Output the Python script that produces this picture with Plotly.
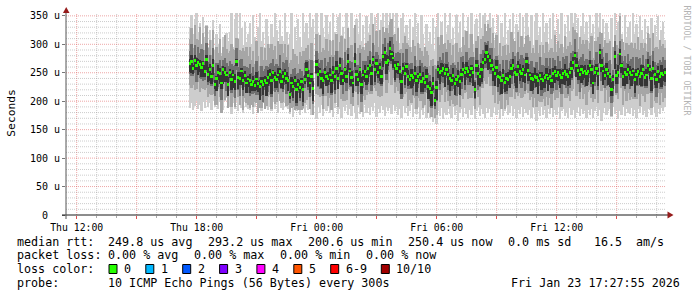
import numpy as np
import pandas as pd
import plotly.graph_objects as go

# ---------------- data (microseconds) ----------------
start_time = "2026-01-22 17:40:00"   # first 5-minute bin
bin_minutes = 5

median_us = [
    266, 270, 258, 272, 262, 268, 264, 259, 266, 252, 273, 247,
    256, 243, 262, 229, 240, 251, 249, 232, 255, 250, 246, 230,
    250, 238, 246, 234, 269, 242, 240, 253, 236, 245, 232, 239,
    236, 230, 234, 228, 239, 231, 226, 234, 229, 237, 232, 242,
    247, 236, 250, 241, 238, 246, 252, 235, 243, 249, 240, 236,
    211, 232, 226, 237, 221, 230, 224, 235, 220, 238, 256, 245,
    232, 243, 223, None, 264, 247, 252, 240, 236, 250, 244, 239,
    246, 237, 251, 243, 258, 240, 262, 248, 236, 255, 244, 270,
    253, 241, 232, 270, 247, 238, 255, 229, 246, 252, 243, 258,
    262, 248, 273, 255, 266, 250, 259, 243, 278, 285, 268, 272,
    293, 283, 276, 262, 257, 264, 252, 234, 258, 249, 261, 244,
    238, 245, 241, 249, 236, 243, 247, 235, 240, 233, 244, 226,
    222, 216, 231, 201, 224, 255, 250, 253, 258, 249, 256, 247,
    240, 236, 245, 231, 238, 243, 235, 247, 256, 250, 258, 252,
    246, 258, 251, 220, 262, 249, 243, 255, 268, 274, 285, 279,
    272, 262, 255, 248, 259, 243, 241, 236, 245, 233, 240, 238,
    243, 258, 262, 250, 247, 261, 252, 249, 256, 246, 269, 254,
    246, 240, 238, 244, 241, 236, 245, 239, 237, 242, 246, 240,
    244, 236, 248, 252, 245, 250, 246, 241, 249, 252, 247, 243,
    250, 258, 268, 280, 262, 254, 247, 256, 251, 253, 248, 252,
    262, 255, 232, 250, 258, 248, 285, 262, 253, 245, 256, 249,
    243, 220, 238, 278, 245, 251, 283, 262, 244, 250, 247, 255,
    250, 246, 253, 238, 247, 252, 244, 249, 255, 241, 246, 262,
    255, 240, 258, 247, 238, 252, 244, 249, 246, 250,
]

max_us = [
    330, 352, 318, 345, 360, 322, 338, 300, 348, 312, 334, 296,
    326, 308, 342, 290, 318, 300, 336, 284, 312, 296, 320, 306,
    322, 360, 296, 344, 360, 310, 355, 328, 298, 340, 304, 318,
    338, 300, 352, 312, 290, 330, 360, 306, 322, 296, 344, 314,
    300, 335, 312, 360, 325, 296, 342, 315, 306, 356, 322, 300,
    318, 360, 292, 330, 306, 345, 312, 296, 360, 322, 338, 310,
    356, 330, 344, None, 360, 320, 300, 360, 328, 312, 352, 318,
    340, 306, 360, 322, 296, 348, 360, 316, 330, 302, 358, 326,
    312, 360, 328, 300, 344, 318, 360, 306, 334, 296, 350, 320,
    336, 360, 314, 348, 300, 360, 326, 342, 360, 318, 356, 334,
    360, 340, 358, 316, 360, 328, 302, 346, 360, 320, 334, 308,
    344, 296, 330, 360, 312, 338, 300, 352, 318, 290, 336, 306,
    322, 300, 346, 288, 330, 360, 312, 340, 298, 356, 318, 334,
    360, 310, 328, 300, 352, 320, 340, 296, 360, 326, 312, 348,
    318, 360, 300, 336, 344, 312, 360, 328, 352, 360, 320, 342,
    360, 330, 346, 308, 320, 352, 296, 338, 312, 360, 300, 326,
    344, 318, 360, 300, 336, 326, 360, 310, 348, 296, 360, 330,
    312, 352, 298, 340, 360, 316, 330, 304, 356, 322, 338, 300,
    346, 310, 360, 326, 300, 344, 318, 360, 296, 336, 312, 352,
    324, 360, 338, 360, 310, 346, 300, 332, 360, 318, 340, 306,
    352, 320, 336, 304, 360, 328, 360, 312, 344, 300, 338, 322,
    310, 346, 296, 360, 326, 340, 360, 318, 300, 352, 312, 330,
    340, 304, 360, 318, 336, 296, 350, 326, 310, 344, 300, 332,
    318, 346, 300, 334, 312, 350, 298, 326, 340, 308,
]

min_us = [
    188, 196, 184, 192, 200, 186, 194, 182, 198, 188, 202, 190,
    196, 184, 200, 190, 205, 186, 198, 192, 184, 200, 206, 194,
    190, 178, 196, 186, 200, 182, 194, 188, 180, 198, 190, 186,
    184, 196, 178, 190, 200, 186, 192, 182, 198, 188, 194, 184,
    190, 182, 198, 186, 194, 180, 200, 188, 184, 196, 190, 186,
    178, 188, 172, 192, 182, 196, 176, 190, 186, 180, 194, 184,
    188, 176, 186, None, 168, 190, 180, 194, 174, 186, 182, 192,
    180, 192, 172, 188, 196, 178, 186, 170, 190, 182, 194, 176,
    186, 174, 192, 180, 168, 190, 178, 186, 172, 194, 180, 188,
    176, 190, 182, 196, 172, 186, 180, 192, 184, 174, 190, 182,
    188, 178, 194, 182, 190, 176, 186, 170, 192, 180, 188, 174,
    182, 194, 172, 186, 178, 190, 168, 184, 176, 192, 170, 180,
    170, 186, 164, 176, 160, 182, 174, 188, 168, 180, 176, 186,
    178, 170, 190, 176, 184, 166, 180, 186, 172, 188, 178, 170,
    184, 176, 192, 168, 182, 190, 174, 186, 178, 170, 188, 180,
    186, 172, 180, 190, 176, 184, 168, 188, 174, 182, 192, 176,
    180, 192, 174, 186, 170, 184, 178, 190, 172, 186, 180, 176,
    184, 170, 188, 178, 166, 182, 174, 190, 176, 184, 170, 186,
    178, 188, 172, 184, 176, 190, 168, 182, 186, 174, 180, 170,
    188, 176, 184, 170, 180, 190, 174, 186, 178, 182, 170, 184,
    176, 186, 170, 182, 190, 174, 184, 166, 180, 188, 176, 182,
    186, 172, 190, 178, 184, 168, 182, 176, 190, 174, 186, 180,
    178, 188, 174, 184, 170, 186, 180, 190, 176, 182, 172, 186,
    184, 176, 190, 180, 172, 186, 178, 188, 182, 190,
]

# smoke spread around the median (us): outer, middle and core bands
outer_up = [
    44, 58, 36, 62, 48, 40, 66, 42, 54, 38, 60, 46,
    52, 38, 64, 44, 56, 34, 60, 48, 40, 66, 46, 54,
    38, 62, 46, 56, 42, 68, 50, 36, 58, 44, 64, 40,
    60, 42, 54, 38, 66, 48, 36, 62, 44, 56, 40, 58,
    46, 64, 40, 56, 36, 60, 48, 66, 42, 52, 38, 62,
    56, 40, 66, 46, 58, 36, 62, 44, 68, 50, 38, 54,
    42, 60, 48, 0, 54, 38, 64, 46, 58, 40, 66, 50,
    62, 44, 56, 38, 60, 48, 42, 66, 36, 54, 46, 58,
    40, 58, 46, 64, 36, 56, 44, 62, 50, 38, 60, 48,
    54, 38, 62, 44, 58, 46, 66, 40, 52, 36, 60, 48,
    46, 62, 40, 56, 48, 64, 38, 58, 44, 66, 42, 54,
    58, 42, 66, 48, 36, 60, 46, 54, 40, 62, 44, 56,
    40, 56, 44, 62, 38, 58, 48, 64, 42, 54, 36, 60,
    62, 46, 54, 38, 64, 44, 58, 40, 56, 48, 66, 42,
    48, 60, 36, 58, 44, 66, 40, 54, 46, 62, 38, 56,
    56, 40, 64, 46, 58, 38, 62, 44, 52, 66, 42, 60,
    42, 64, 48, 56, 38, 60, 44, 66, 40, 54, 46, 62,
    60, 44, 56, 40, 66, 48, 54, 38, 62, 42, 58, 46,
    46, 58, 38, 64, 42, 56, 48, 60, 36, 62, 44, 54,
    54, 40, 62, 46, 58, 38, 66, 44, 56, 48, 60, 40,
    40, 60, 44, 56, 48, 64, 36, 58, 42, 62, 46, 54,
    62, 46, 58, 38, 54, 42, 66, 48, 60, 40, 56, 44,
    48, 56, 40, 64, 44, 60, 46, 54, 38, 62, 42, 58,
    56, 42, 62, 46, 58, 40, 64, 48, 54, 44,
]
outer_dn = [
    38, 46, 30, 52, 40, 34, 48, 36, 44, 32, 50, 40,
    44, 32, 50, 36, 46, 30, 42, 52, 34, 48, 38, 42,
    32, 48, 38, 44, 50, 34, 46, 30, 52, 40, 36, 46,
    48, 36, 44, 30, 42, 52, 38, 46, 32, 50, 40, 34,
    36, 50, 32, 46, 40, 34, 52, 38, 44, 30, 48, 42,
    30, 44, 36, 52, 34, 46, 40, 50, 32, 42, 54, 38,
    46, 34, 48, 0, 52, 36, 44, 30, 50, 40, 34, 48,
    40, 52, 34, 46, 38, 50, 32, 44, 36, 54, 42, 48,
    34, 46, 40, 52, 30, 44, 38, 48, 36, 50, 32, 42,
    50, 36, 46, 32, 48, 40, 52, 34, 44, 38, 54, 40,
    42, 54, 36, 48, 32, 46, 40, 30, 50, 36, 44, 52,
    36, 48, 32, 44, 50, 38, 46, 34, 52, 40, 30, 46,
    32, 44, 38, 30, 48, 36, 52, 42, 34, 50, 40, 46,
    48, 34, 50, 40, 44, 30, 46, 38, 52, 36, 42, 48,
    40, 52, 36, 34, 46, 42, 50, 32, 44, 38, 54, 36,
    46, 36, 44, 52, 34, 48, 40, 50, 30, 46, 38, 44,
    36, 50, 40, 46, 32, 52, 38, 44, 48, 34, 50, 40,
    44, 32, 48, 38, 52, 36, 46, 40, 34, 50, 38, 46,
    38, 48, 34, 50, 40, 44, 30, 52, 36, 46, 42, 34,
    50, 40, 46, 36, 52, 38, 44, 32, 48, 40, 54, 36,
    42, 50, 34, 46, 38, 52, 40, 44, 30, 48, 36, 50,
    36, 46, 40, 52, 34, 48, 42, 38, 50, 32, 46, 40,
    48, 38, 50, 34, 44, 40, 52, 36, 46, 42, 34, 50,
    40, 52, 36, 46, 42, 38, 50, 34, 48, 44,
]
mid_up = [
    22, 30, 18, 26, 16, 28, 20, 32, 24, 18, 30, 22,
    26, 18, 32, 20, 28, 16, 24, 30, 18, 26, 22, 32,
    20, 28, 16, 30, 24, 18, 32, 22, 26, 16, 28, 20,
    30, 20, 26, 18, 32, 22, 16, 28, 24, 20, 30, 18,
    18, 32, 24, 20, 28, 16, 30, 22, 26, 18, 32, 24,
    28, 16, 30, 22, 26, 20, 32, 18, 24, 30, 16, 26,
    22, 30, 18, 0, 24, 28, 16, 32, 20, 26, 18, 30,
    32, 20, 26, 18, 30, 24, 16, 28, 22, 32, 20, 24,
    18, 28, 22, 32, 16, 26, 30, 20, 24, 18, 28, 22,
    26, 18, 30, 24, 20, 32, 16, 28, 22, 26, 18, 30,
    20, 30, 24, 16, 28, 22, 32, 18, 26, 20, 30, 24,
    28, 22, 16, 30, 24, 18, 26, 32, 20, 28, 16, 24,
    24, 18, 30, 22, 32, 16, 28, 20, 26, 18, 30, 22,
    16, 28, 22, 32, 20, 26, 18, 30, 24, 16, 28, 20,
    30, 20, 26, 18, 32, 24, 16, 28, 22, 30, 18, 26,
    22, 32, 18, 26, 20, 30, 24, 16, 28, 22, 32, 18,
    28, 16, 24, 30, 18, 26, 22, 32, 20, 28, 16, 24,
    20, 30, 22, 16, 28, 18, 32, 24, 26, 20, 30, 22,
    32, 22, 28, 20, 16, 30, 24, 18, 28, 22, 32, 16,
    18, 26, 20, 30, 24, 16, 28, 22, 32, 18, 26, 20,
    26, 18, 32, 22, 28, 20, 16, 30, 24, 18, 28, 22,
    30, 24, 16, 28, 20, 32, 22, 18, 26, 30, 20, 28,
    20, 28, 24, 18, 30, 22, 32, 16, 26, 20, 28, 24,
    24, 18, 30, 22, 26, 16, 28, 20, 32, 22,
]
mid_dn = [
    18, 26, 14, 22, 28, 16, 24, 20, 30, 14, 22, 18,
    24, 16, 28, 20, 14, 26, 18, 30, 22, 16, 28, 20,
    16, 24, 20, 28, 14, 22, 30, 18, 26, 20, 14, 24,
    26, 18, 22, 14, 28, 20, 16, 24, 30, 18, 22, 26,
    20, 28, 16, 24, 18, 30, 22, 14, 26, 20, 28, 16,
    14, 22, 26, 18, 30, 16, 24, 20, 28, 14, 22, 26,
    24, 18, 28, 0, 16, 22, 30, 18, 26, 20, 14, 24,
    18, 26, 20, 30, 22, 14, 28, 16, 24, 18, 26, 20,
    28, 16, 24, 20, 14, 26, 18, 30, 22, 16, 24, 28,
    20, 30, 14, 26, 22, 18, 28, 16, 24, 20, 30, 18,
    26, 18, 22, 28, 16, 24, 20, 30, 14, 26, 18, 22,
    16, 24, 30, 18, 26, 20, 14, 22, 28, 16, 24, 20,
    22, 28, 16, 14, 24, 18, 30, 20, 26, 22, 16, 28,
    30, 18, 24, 20, 28, 14, 22, 26, 16, 30, 20, 24,
    18, 26, 20, 16, 22, 30, 18, 24, 28, 16, 26, 22,
    24, 14, 28, 22, 18, 26, 30, 16, 24, 20, 28, 14,
    20, 28, 18, 24, 30, 16, 22, 26, 14, 28, 18, 24,
    28, 16, 26, 20, 14, 24, 18, 30, 22, 26, 16, 20,
    16, 24, 30, 18, 26, 22, 14, 28, 20, 16, 24, 30,
    26, 20, 14, 28, 18, 24, 30, 16, 22, 28, 18, 24,
    22, 30, 18, 24, 16, 28, 20, 26, 14, 22, 30, 18,
    18, 24, 28, 16, 30, 20, 26, 22, 18, 28, 16, 24,
    28, 16, 22, 30, 20, 26, 14, 24, 28, 18, 22, 16,
    20, 26, 18, 24, 30, 16, 22, 28, 18, 24,
]
core_up = [
    8, 12, 6, 10, 14, 6, 9, 12, 5, 11, 8, 13,
    10, 6, 13, 8, 5, 12, 9, 14, 7, 10, 6, 12,
    7, 11, 9, 14, 6, 10, 12, 5, 13, 8, 11, 6,
    12, 6, 10, 8, 13, 5, 11, 9, 14, 7, 10, 12,
    9, 14, 5, 11, 8, 12, 6, 13, 10, 7, 12, 8,
    6, 10, 13, 7, 12, 9, 14, 5, 11, 8, 13, 10,
    11, 7, 12, 0, 9, 13, 6, 10, 14, 8, 5, 12,
    13, 8, 10, 6, 12, 9, 14, 7, 11, 5, 10, 13,
    6, 12, 9, 14, 7, 11, 5, 13, 8, 12, 10, 6,
    10, 13, 6, 11, 9, 14, 8, 12, 5, 10, 13, 7,
    12, 5, 11, 8, 13, 6, 10, 14, 9, 12, 7, 11,
    8, 12, 6, 13, 10, 7, 14, 9, 11, 5, 12, 8,
    13, 9, 11, 6, 12, 8, 10, 14, 7, 11, 9, 13,
    7, 11, 14, 9, 6, 12, 8, 10, 13, 7, 11, 9,
    11, 6, 9, 13, 10, 14, 7, 12, 8, 11, 13, 6,
    9, 13, 7, 10, 14, 8, 12, 6, 11, 9, 10, 14,
    12, 8, 13, 6, 11, 9, 14, 10, 7, 12, 8, 11,
    6, 10, 12, 14, 8, 11, 7, 13, 9, 6, 12, 10,
    13, 7, 11, 9, 12, 6, 10, 14, 8, 13, 9, 11,
    8, 12, 10, 6, 14, 9, 13, 7, 11, 10, 6, 12,
    11, 9, 14, 12, 7, 10, 6, 13, 9, 14, 11, 8,
    7, 13, 8, 11, 10, 12, 9, 6, 14, 8, 12, 10,
    12, 10, 6, 13, 9, 7, 11, 14, 8, 12, 10, 13,
    9, 11, 13, 7, 12, 10, 8, 14, 11, 9,
]
core_dn = [
    14, 20, 10, 18, 8, 22, 12, 16, 24, 10, 18, 14,
    20, 12, 16, 8, 22, 14, 18, 10, 24, 16, 12, 20,
    10, 18, 22, 14, 8, 20, 12, 24, 16, 10, 18, 14,
    22, 12, 16, 10, 20, 14, 24, 8, 18, 12, 22, 16,
    16, 24, 10, 18, 14, 8, 20, 12, 22, 16, 10, 18,
    8, 16, 20, 12, 24, 10, 18, 14, 22, 8, 16, 20,
    18, 10, 22, 0, 14, 20, 8, 16, 24, 12, 18, 10,
    12, 22, 16, 24, 10, 18, 14, 20, 8, 22, 12, 16,
    24, 14, 18, 10, 20, 12, 22, 16, 8, 18, 14, 24,
    14, 20, 8, 22, 16, 10, 24, 12, 18, 14, 20, 10,
    20, 12, 18, 24, 8, 16, 14, 22, 10, 20, 12, 18,
    10, 22, 14, 16, 20, 12, 8, 18, 24, 10, 16, 22,
    18, 24, 12, 10, 22, 14, 20, 8, 16, 24, 12, 18,
    22, 10, 16, 20, 12, 18, 24, 14, 8, 22, 16, 12,
    12, 18, 24, 14, 10, 20, 16, 22, 12, 8, 18, 24,
    16, 8, 20, 22, 14, 18, 10, 24, 12, 16, 22, 10,
    20, 14, 10, 18, 24, 12, 16, 8, 22, 14, 20, 18,
    10, 22, 18, 12, 16, 24, 8, 20, 14, 18, 10, 22,
    16, 12, 24, 20, 8, 14, 22, 10, 18, 24, 12, 16,
    22, 18, 12, 8, 20, 16, 10, 24, 14, 12, 22, 18,
    14, 24, 20, 16, 12, 22, 18, 10, 24, 8, 14, 20,
    18, 10, 16, 22, 14, 8, 20, 12, 18, 24, 16, 10,
    12, 20, 14, 24, 18, 10, 16, 22, 8, 14, 20, 12,
    16, 22, 10, 18, 14, 20, 12, 24, 10, 16,
]

y_tick_values = [0, 50, 100, 150, 200, 250, 300, 350]
y_tick_labels = ["0\u00a0\u00a0", "50 u", "100 u", "150 u", "200 u", "250 u", "300 u", "350 u"]
x_tick_values = ["2026-01-22 12:00", "2026-01-22 15:00", "2026-01-22 18:00", "2026-01-22 21:00",
                 "2026-01-23 00:00", "2026-01-23 03:00", "2026-01-23 06:00", "2026-01-23 09:00",
                 "2026-01-23 12:00", "2026-01-23 15:00"]
x_tick_labels = ["Thu 12:00", "", "Thu 18:00", "", "Fri 00:00", "", "Fri 06:00", "", "Fri 12:00", ""]

legend_stats = ["249.8 us avg", "293.2 us max", "200.6 us min", "250.4 us now", "0.0 ms sd", "16.5", "am/s"]
loss_stats = ["0.00 % avg", "0.00 % max", "0.00 % min", "0.00 % now"]
loss_labels = ["0", "1", "2", "3", "4", "5", "6-9", "10/10"]
loss_colors = ["#26ff00", "#00b8ff", "#0059ff", "#7e00ff", "#ff00ff", "#ff5500", "#ff0000", "#a10000"]
probe_text = "10 ICMP Echo Pings (56 Bytes) every 300s"
stamp_text = "Fri Jan 23 17:27:55 2026"

# ---------------- build ----------------
n = min(len(median_us), len(max_us), len(min_us), len(outer_up), len(outer_dn),
        len(mid_up), len(mid_dn), len(core_up), len(core_dn))
med = np.array(median_us[:n], dtype=float)
mx = np.array(max_us[:n], dtype=float)
mn = np.array(min_us[:n], dtype=float)
times = pd.date_range(start_time, periods=n, freq=f"{bin_minutes}min")
bin_ms = bin_minutes * 60 * 1000

x_start = pd.Timestamp("2026-01-22 11:27:55")
x_end = pd.Timestamp("2026-01-23 17:27:55")

W, H = 697, 297
L, R, T, B = 66, 31, 13, 82
PW, PH = W - L - R, H - T - B
Y_MAX = 355
med_half = 1.45 * Y_MAX / PH   # ~1.5 px half-height of the median tick


def px(x):
    return (x - L) / PW


def py(y):
    return (H - B - y) / PH


fig = go.Figure()

bands = [
    (mn, mx, "#cdcdcd"),
    (med - np.array(outer_dn[:n]), med + np.array(outer_up[:n]), "#a6a6a6"),
    (med - np.array(mid_dn[:n]), med + np.array(mid_up[:n]), "#707070"),
    (med - np.array(core_dn[:n]), med + np.array(core_up[:n]), "#353535"),
    (med - med_half, med + med_half, "#26ff00"),
]
for lo, hi, col in bands:
    fig.add_trace(go.Bar(x=times, y=hi - lo, base=lo, width=bin_ms,
                         marker=dict(color=col, line=dict(width=0)),
                         hoverinfo="skip", showlegend=False))

shapes = []
# dotted grid behind the smoke
MAJ = "rgba(222,80,80,0.5)"
MIN = "rgba(143,143,143,0.45)"
for t in pd.date_range("2026-01-22 12:00", "2026-01-23 17:00", freq="1h"):
    major = t.hour % 3 == 0
    shapes.append(dict(type="line", xref="x", yref="paper", x0=t, x1=t, y0=0, y1=1,
                       layer="below", line=dict(color=MAJ if major else MIN, width=1, dash="1px,1px")))
for v in range(10, 351, 10):
    major = v % 50 == 0
    shapes.append(dict(type="line", xref="paper", yref="y", x0=0, x1=1, y0=v, y1=v,
                       layer="below", line=dict(color=MAJ if major else MIN, width=1, dash="1px,1px")))
# axes lines
shapes.append(dict(type="line", xref="paper", yref="paper", x0=px(62), x1=px(669),
                   y0=py(215), y1=py(215), layer="above", line=dict(color="#1a1a1a", width=1)))
shapes.append(dict(type="line", xref="paper", yref="paper", x0=px(66), x1=px(66),
                   y0=py(219), y1=py(11), layer="above", line=dict(color="#555555", width=1)))
# arrows
arrow_col = "#961c1c"
shapes.append(dict(type="path", xref="paper", yref="paper", layer="above",
                   path=f"M {px(63)} {py(13)} L {px(69.5)} {py(13)} L {px(66.2)} {py(7)} Z",
                   fillcolor=arrow_col, line=dict(width=0)))
shapes.append(dict(type="path", xref="paper", yref="paper", layer="above",
                   path=f"M {px(667.5)} {py(211.5)} L {px(667.5)} {py(218.5)} L {px(673.5)} {py(215)} Z",
                   fillcolor=arrow_col, line=dict(width=0)))

MONO = "DejaVu Sans Mono"
FS = 11.7
annotations = []


def txt(x, y, s, anchor="left", size=FS, color="#000000", angle=0):
    annotations.append(dict(x=px(x), y=py(y), xref="paper", yref="paper", text=s,
                            showarrow=False, xanchor=anchor, yanchor="middle",
                            textangle=angle, borderpad=0,
                            font=dict(family=MONO, size=size, color=color)))


y1, y2, y3, y4 = 241.7, 255.3, 269.0, 282.7
txt(15.5, y1, "median rtt:")
for xpos, s in zip([107, 207, 306.5, 406.5, 506.5, 592.5, 635], legend_stats):
    txt(xpos, y1, s)
txt(15.5, y2, "packet loss:")
for xpos, s in zip([107, 193, 278.5, 364.5], loss_stats):
    txt(xpos, y2, s)
txt(15.5, y3, "loss color:")
box_x = [109, 145.8, 182.7, 219.6, 256.9, 293.8, 330.7, 381.3]
for bx, lab, col in zip(box_x, loss_labels, loss_colors):
    shapes.append(dict(type="rect", xref="paper", yref="paper",
                       x0=px(bx), x1=px(bx + 8), y0=py(273.5), y1=py(264.5),
                       fillcolor=col, line=dict(color="#000000", width=1)))
    txt(bx + 14, y3, lab)
txt(15.5, y4, "probe:")
txt(107, y4, probe_text)
txt(681, y4, stamp_text, anchor="right")
txt(10.7, 113, "Seconds", anchor="center", size=11.3, angle=-90)
txt(686.5, 60, "RRDTOOL / TOBI OETIKER", anchor="center", size=8.3, color="#b4b4b4", angle=90)

fig.update_layout(
    width=W, height=H, autosize=False,
    margin=dict(l=L, r=R, t=T, b=B, pad=0),
    paper_bgcolor="white", plot_bgcolor="rgba(0,0,0,0)",
    barmode="overlay", bargap=0, showlegend=False,
    shapes=shapes, annotations=annotations,
    font=dict(family=MONO, color="#000000"),
)
fig.update_xaxes(
    type="date", range=[x_start, x_end], showgrid=False, zeroline=False, showline=False,
    tickmode="array", tickvals=x_tick_values, ticktext=x_tick_labels,
    ticks="outside", ticklen=3, tickcolor="#de5050", tickwidth=1,
    tickfont=dict(family=MONO, size=9.8, color="#000000"),
    minor=dict(dtick=3600000, tick0="2026-01-22 12:00", ticks="outside", ticklen=2,
               tickcolor="#aaaaaa", showgrid=False),
    automargin=False, fixedrange=True,
)
fig.update_yaxes(
    range=[0, Y_MAX], showgrid=False, zeroline=False, showline=False,
    tickmode="array", tickvals=y_tick_values, ticktext=y_tick_labels,
    ticks="outside", ticklen=3, tickcolor="#777777", tickwidth=1,
    tickfont=dict(family=MONO, size=10, color="#000000"),
    automargin=False, fixedrange=True,
)

fig.write_html("out.html")
